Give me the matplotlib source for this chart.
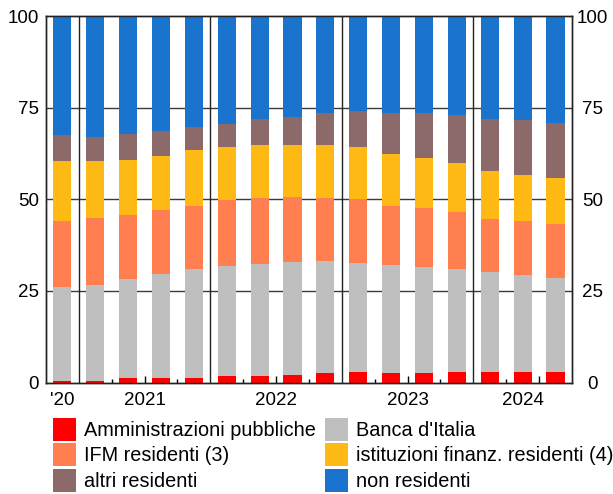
import numpy as np
import matplotlib
matplotlib.use("Agg")
from matplotlib import pyplot as plt
from matplotlib.patches import Patch

plt.rcParams["font.family"] = ["Liberation Sans", "DejaVu Sans"]

# quarterly shares (%), Q4 2020 .. Q3 2024
amm_pubbliche = [0.4, 0.4, 1.2, 1.2, 1.2, 1.8, 1.8, 2.0, 2.6, 2.9, 2.6, 2.6, 2.9, 2.9, 2.9, 2.9]
banca_italia = [25.7, 26.2, 27.1, 28.4, 29.8, 30.0, 30.6, 30.9, 30.6, 29.7, 29.5, 29.0, 28.1, 27.3, 26.5, 25.7]
ifm_residenti = [18.0, 18.3, 17.4, 17.5, 17.2, 18.1, 18.0, 17.8, 17.2, 17.5, 16.1, 16.1, 15.6, 14.5, 14.7, 14.7]
ist_finanz = [16.3, 15.5, 15.2, 14.9, 15.2, 14.3, 14.6, 14.3, 14.4, 14.1, 14.1, 13.5, 13.5, 13.2, 12.7, 12.7]
altri_residenti = [7.1, 6.8, 6.9, 6.6, 6.3, 6.3, 6.9, 7.4, 8.7, 10.1, 11.2, 12.3, 13.1, 14.2, 14.8, 14.8]
non_residenti = [32.5, 32.8, 32.2, 31.4, 30.3, 29.5, 28.1, 27.6, 26.5, 25.7, 26.5, 26.5, 26.8, 27.9, 28.4, 29.2]

year_labels = ["'20", "2021", "2022", "2023", "2024"]
year_pos = [0, 2.5, 6.5, 10.5, 14]
year_breaks = [0.5, 4.5, 8.5, 12.5]

series = [
    ("Amministrazioni pubbliche", amm_pubbliche, "#ff0000"),
    ("IFM residenti (3)", ifm_residenti, "#ff7f50"),
    ("altri residenti", altri_residenti, "#8c6a69"),
    ("Banca d'Italia", banca_italia, "#bfbfbf"),
    ("istituzioni finanz. residenti (4)", ist_finanz, "#ffb914"),
    ("non residenti", non_residenti, "#1a74ce"),
]
stack_order = [0, 3, 1, 4, 2, 5]

fig = plt.figure(figsize=(6.13, 4.94), dpi=100)
ax = fig.add_axes([0.075, 0.2257, 0.858, 0.741])

x = np.arange(len(amm_pubbliche))
bottom = np.zeros(len(x))
for i in stack_order:
    name, vals, col = series[i]
    ax.bar(x, vals, 0.55, bottom=bottom, color=col, zorder=3)
    bottom += np.array(vals)

ax.set_xlim(-0.5, 15.5)
ax.set_ylim(0, 100)
for y in [25, 50, 75]:
    ax.axhline(y, color="#3a3a3a", lw=1.0, zorder=1)
for xb in year_breaks:
    ax.axvline(xb, color="#222222", lw=1.0, zorder=2)

ax.set_xticks([2.5, 6.5, 10.5, 14.5])
ax.set_xticks([1.5, 3.5, 5.5, 7.5, 9.5, 11.5, 13.5], minor=True)
ax.tick_params(axis="x", which="major", direction="in", length=5, width=1, labelbottom=False)
ax.tick_params(axis="x", which="minor", direction="in", length=3, width=1)
for lab, p in zip(year_labels, year_pos):
    ax.text(p, -0.025, lab, transform=ax.get_xaxis_transform(),
            ha="center", va="top", fontsize=13.5)

yt = [0, 25, 50, 75, 100]
ax.set_yticks(yt)
ax.tick_params(axis="y", length=0, pad=5, labelsize=13.5)
ax2 = ax.twinx()
ax2.set_ylim(0, 100)
ax2.set_yticks(yt)
ax2.tick_params(axis="y", length=0, pad=15, labelsize=13.5)
for t in ax2.get_yticklabels():
    t.set_horizontalalignment("center")

for a in (ax, ax2):
    for s in a.spines.values():
        s.set_color("#222222")
        s.set_linewidth(1.0)

handles = [Patch(facecolor=c, edgecolor="none") for _, _, c in series]
labels = [n for n, _, _ in series]
fig.legend(handles, labels, ncol=2, loc="upper left",
           bbox_to_anchor=(53 / 613, 1 - 418 / 494), frameon=False,
           fontsize=14.3, handlelength=1.16, handleheight=1.40,
           handletextpad=0.4, labelspacing=0.12, columnspacing=0.45,
           borderpad=0, borderaxespad=0)

fig.savefig("out.png", dpi=100)
